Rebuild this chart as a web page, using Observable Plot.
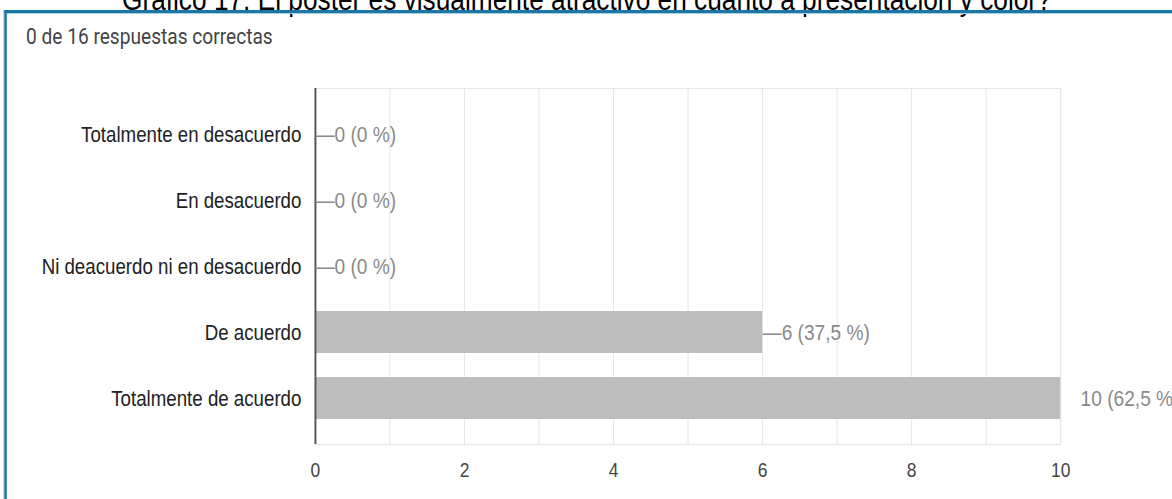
<!DOCTYPE html>
<html>
<head>
<meta charset="utf-8">
<script src="https://cdn.jsdelivr.net/npm/d3@7"></script>
<script src="https://cdn.jsdelivr.net/npm/@observablehq/plot@0.6"></script>
<style>
  html, body { margin: 0; padding: 0; background: #fff; overflow: hidden; width: 1172px; height: 499px; }
  #clip { position: relative; width: 1172px; height: 499px; overflow: hidden; }
  /* the reference is a horizontally compressed screenshot: draw wide, then squeeze */
  #wrap { position: absolute; left: 0; top: 0; width: 1379px; height: 499px; overflow: hidden;
          background: #fff; transform: scaleX(0.85); transform-origin: 0 0; }
  #chart { position: absolute; left: 0; top: 0; z-index: 1; }
  #title { position: absolute; left: 143.5px; top: -16px; z-index: 2; white-space: nowrap;
           font-family: 'Liberation Sans', Arial, sans-serif;
           font-size: 30.9px; line-height: 31px; color: #000; }
  #frame { position: absolute; left: 4.7px; top: 10px; width: 1500px; height: 520px; z-index: 3;
           border-top: 3px solid #1c77a6; border-left: 3.5px solid #1c77a6;
           box-shadow: -1.2px 0 0 #a9d1e6, inset 0 1px 0 #a9d1e6; pointer-events: none; }
  #sub { position: absolute; left: 30.6px; top: 25px; z-index: 2; white-space: nowrap;
         font-family: Roboto, 'Liberation Sans', Arial, sans-serif;
         font-size: 22.5px; line-height: 23px; color: #444; }
</style>
</head>
<body>
<div id="clip">
<div id="wrap">
  <div id="title"></div>
  <div id="sub"></div>
  <div id="chart"></div>
  <div id="frame"></div>
</div>
</div>
<script>
const titleText = "Gráfico 17: El poster es visualmente atractivo en cuanto a presentación y color?";
const subtitleText = "0 de 16 respuestas correctas";
const categories = [
  "Totalmente en desacuerdo",
  "En desacuerdo",
  "Ni deacuerdo ni en desacuerdo",
  "De acuerdo",
  "Totalmente de acuerdo"
];
const counts = [0, 0, 0, 6, 10];
const valueLabels = ["0 (0 %)", "0 (0 %)", "0 (0 %)", "6 (37,5 %)", "10 (62,5 %)"];
const xTicks = [0, 2, 4, 6, 8, 10];
const gridTicks = [1, 2, 3, 4, 5, 6, 7, 8, 9, 10];

document.getElementById("title").textContent = titleText;
document.getElementById("sub").textContent = subtitleText;

const FONT = "'Liberation Sans', Arial, sans-serif";
const data = categories.map((c, i) => ({category: c, count: counts[i], label: valueLabels[i]}));
const maxCount = d3.max(counts);

const chart = Plot.plot({
  width: 1379,
  height: 499,
  marginLeft: 370.6,
  marginRight: 131.7,
  marginTop: 88,
  marginBottom: 55,
  style: {fontFamily: FONT, background: "transparent", overflow: "visible"},
  x: {domain: [0, 10], label: null},
  y: {domain: categories, padding: 0.37, label: null},
  marks: [
    Plot.frame({stroke: "#e6e6e6", strokeWidth: 1.18}),
    Plot.ruleX(gridTicks, {stroke: "#e6e6e6", strokeWidth: 1.18}),
    Plot.barX(data, {y: "category", x: "count", fill: "#bdbdbd"}),
    Plot.ruleX([0], {stroke: "#555", strokeWidth: 2.3}),
    Plot.text(data.filter(d => d.count < maxCount), {
      y: "category", x: "count", text: d => "—" + d.label,
      textAnchor: "start", dx: 0, fontSize: 22.5, fill: "#8a8a8a"
    }),
    Plot.text(data.filter(d => d.count === maxCount), {
      y: "category", x: "count", text: "label",
      textAnchor: "start", dx: 23.5, fontSize: 22.5, fill: "#8a8a8a"
    }),
    Plot.axisY({tickSize: 0, tickPadding: 16.5, fontSize: 22, fill: "#222", label: null}),
    Plot.axisX({ticks: xTicks, tickSize: 0, tickPadding: 18, fontSize: 20.5, fill: "#444", label: null, tickFormat: d => String(d)})
  ]
});
document.getElementById("chart").appendChild(chart);
</script>
</body>
</html>
